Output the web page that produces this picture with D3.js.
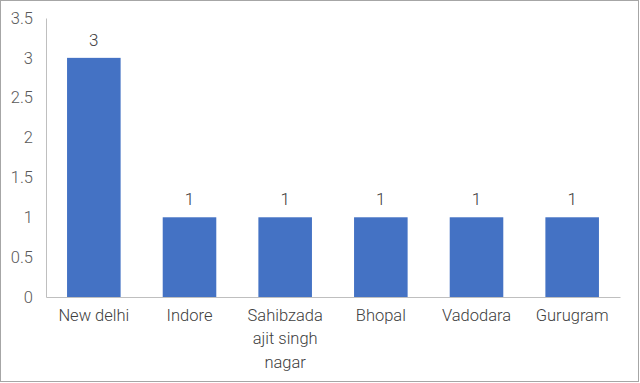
<!DOCTYPE html>
<html><head><meta charset="utf-8">
<script src="https://cdn.jsdelivr.net/npm/d3@7/dist/d3.min.js"></script>
<style>body{margin:0;background:#fff}svg{display:block}</style>
</head><body>
<svg id="c" width="640" height="383"></svg>
<script>
const categories = ["New delhi","Indore","Sahibzada ajit singh nagar","Bhopal","Vadodara","Gurugram"];
const values = [3,1,1,1,1,1];
const yTicks = [0,0.5,1,1.5,2,2.5,3,3.5];

const svg = d3.select("#c");
const W = 640, H = 383;
const m = {left:46, right:20, top:18, bottom:86};
svg.append("rect").attr("x",0.5).attr("y",0.5).attr("width",W-2).attr("height",H-2)
  .attr("fill","#fff").attr("stroke","#a6a6a6");

const x = d3.scaleBand().domain(categories).range([m.left, W-m.right]).paddingInner(0.44).paddingOuter(0.22);
const y = d3.scaleLinear().domain([0,3.5]).range([H-m.bottom, m.top]);
const font = "Roboto, 'Noto Sans', sans-serif";

// y axis
const ya = svg.append("g").attr("transform",`translate(${m.left},0)`)
  .call(d3.axisLeft(y).tickValues(yTicks).tickSize(0).tickPadding(13).tickFormat(d=>String(d)));
ya.select(".domain").attr("stroke","#bfbfbf");
ya.selectAll("text").attr("font-family",font).attr("font-size",16.5).attr("font-weight",300).attr("fill","#595959");

// bars
svg.append("g").selectAll("rect").data(values).join("rect")
  .attr("x",(d,i)=>x(categories[i])).attr("width",x.bandwidth())
  .attr("y",d=>y(d)).attr("height",d=>y(0)-y(d)).attr("fill","#4472C4");

// x axis
const xa = svg.append("g").attr("transform",`translate(0,${y(0)})`)
  .call(d3.axisBottom(x).tickSize(0).tickPadding(12));
xa.select(".domain").attr("stroke","#bfbfbf");
xa.selectAll("text").attr("font-family",font).attr("font-size",16.5).attr("font-weight",300).attr("fill","#404040")
  .each(function(d){
    const t = d3.select(this); const words = d.split(" "); t.text(null);
    let lines=[], cur=[];
    const tmp = t.append("tspan");
    words.forEach(w=>{ cur.push(w); tmp.text(cur.join(" "));
      if(tmp.node().getComputedTextLength()>88 && cur.length>1){ cur.pop(); lines.push(cur.join(" ")); cur=[w]; } });
    lines.push(cur.join(" ")); tmp.remove();
    lines.forEach((l,i)=>t.append("tspan").attr("x",0).attr("dy", i===0?"0.71em":"23.5px").text(l));
  });

// data labels
svg.append("g").selectAll("text").data(values).join("text")
  .attr("x",(d,i)=>x(categories[i])+x.bandwidth()/2).attr("y",d=>y(d)-12)
  .attr("text-anchor","middle").attr("font-family",font).attr("font-size",17).attr("font-weight",300).attr("fill","#404040")
  .text(d=>d);
</script>
</body></html>
